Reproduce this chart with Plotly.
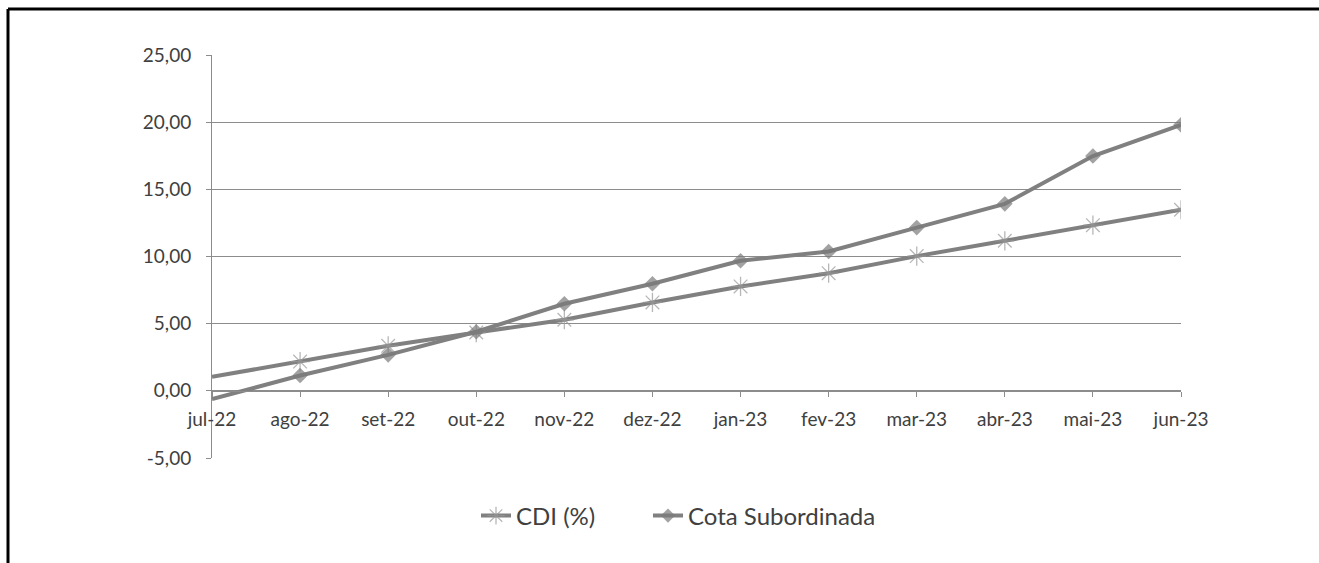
import plotly.graph_objects as go

months = ["jul-22", "ago-22", "set-22", "out-22", "nov-22", "dez-22",
          "jan-23", "fev-23", "mar-23", "abr-23", "mai-23", "jun-23"]
cdi = [1.04, 2.18, 3.35, 4.34, 5.29, 6.58, 7.77, 8.76, 10.03, 11.17, 12.33, 13.48]
cota = [-0.62, 1.14, 2.68, 4.40, 6.48, 7.97, 9.68, 10.37, 12.15, 13.92, 17.48, 19.80]
y_ticks = [-5, 0, 5, 10, 15, 20, 25]
y_labels = ["-5,00", "0,00", "5,00", "10,00", "15,00", "20,00", "25,00"]

W, H = 1319, 563
L, T = 212, 55
R = W - 1181
B = H - 458
pw, ph = W - L - R, H - T - B

font = "Lato, 'Open Sans', sans-serif"
txt = "#404040"
line_col = "#808080"

cdi_sizes = [0] + [16] * (len(months) - 1)
cota_sizes = [0] + [12] * (len(months) - 1)

fig = go.Figure()
fig.add_trace(go.Scatter(
    x=months, y=cdi, name="CDI (%)", mode="lines+markers", legend="legend",
    line=dict(color=line_col, width=4),
    marker=dict(symbol="asterisk-open", size=cdi_sizes, color="#999999",
                line=dict(color="#999999", width=1.3)),
))
fig.add_trace(go.Scatter(
    x=months, y=cota, name="Cota Subordinada", mode="lines+markers", legend="legend2",
    line=dict(color=line_col, width=4),
    marker=dict(symbol="diamond", size=cota_sizes, color="#7a7a7a",
                line=dict(width=0)),
))

def sx(px):
    return (px - L) / pw

def sy(py):
    return (H - B - py) / ph

leg_common = dict(orientation="h", xanchor="left", y=sy(516), yanchor="middle",
                  font=dict(family=font, size=24, color=txt),
                  bgcolor="rgba(0,0,0,0)")

fig.update_layout(
    width=W, height=H,
    margin=dict(l=L, r=R, t=T, b=B, autoexpand=False),
    paper_bgcolor="white", plot_bgcolor="white",
    font=dict(family=font, size=19, color=txt),
    showlegend=True,
    legend=dict(x=sx(476), **leg_common),
    legend2=dict(x=sx(648), **leg_common),
    xaxis=dict(
        type="category", range=[0, len(months) - 1],
        anchor="free", position=5 / 30,
        showline=True, linecolor="#8c8c8c", linewidth=1,
        ticks="outside", ticklen=5, tickcolor="#8c8c8c",
        showgrid=False, zeroline=False,
        ticklabelstandoff=6,
        tickfont=dict(family=font, size=19, color=txt),
    ),
    yaxis=dict(
        range=[-5, 25], tickvals=y_ticks, ticktext=y_labels,
        showline=True, linecolor="#8c8c8c", linewidth=1,
        ticks="outside", ticklen=5, tickcolor="#8c8c8c",
        showgrid=True, gridcolor="#8c8c8c", gridwidth=1,
        zeroline=False, ticklabelstandoff=11,
        tickfont=dict(family=font, size=19, color=txt),
    ),
)

# outer frame: top and left edges visible in the original
fig.add_shape(type="line", xref="paper", yref="paper",
              x0=sx(8), x1=sx(W + 10), y0=sy(9), y1=sy(9),
              line=dict(color="black", width=3))
fig.add_shape(type="line", xref="paper", yref="paper",
              x0=sx(8), x1=sx(8), y0=sy(9), y1=sy(H + 10),
              line=dict(color="black", width=3))

fig.write_html("out.html", config={"displayModeBar": False},
               post_script="document.body.style.margin='0';document.body.style.overflow='hidden';")
